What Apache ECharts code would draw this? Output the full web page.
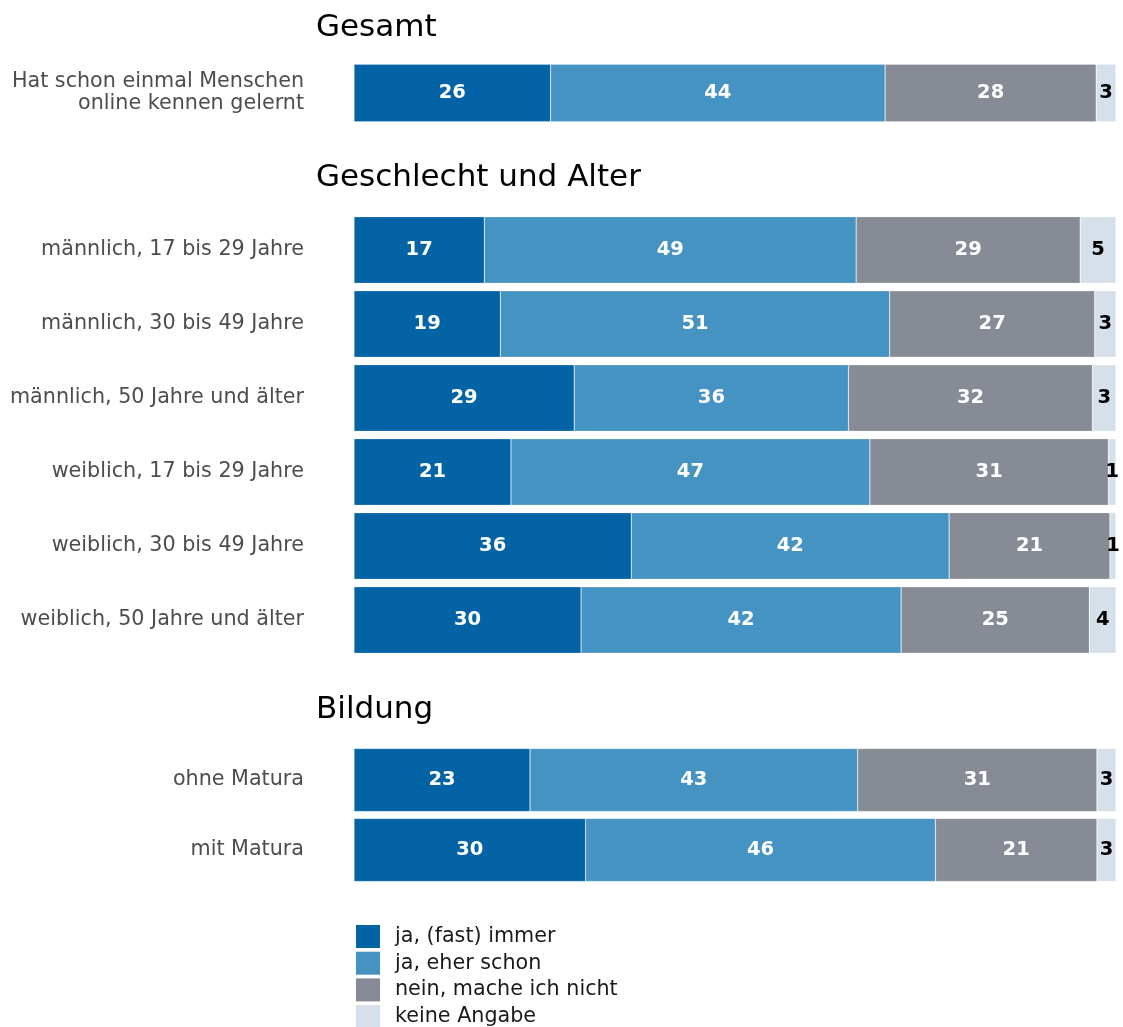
<!DOCTYPE html>
<html>
<head>
<meta charset="utf-8">
<script src="https://cdn.jsdelivr.net/npm/echarts@6/dist/echarts.min.js"></script>
<style>
  html, body { margin: 0; padding: 0; background: #ffffff; }
  #chart { width: 1123px; height: 1027px; }
</style>
</head>
<body>
<div id="chart"></div>
<script>
// ---- data ----
const responseLabels = ['ja, (fast) immer', 'ja, eher schon', 'nein, mache ich nicht', 'keine Angabe'];
const responseColors = ['#0363a5', '#4493c3', '#878b95', '#d5e0eb'];
const labelColors = ['#ffffff', '#ffffff', '#ffffff', '#000000'];

const panelTitles = ['Gesamt', 'Geschlecht und Alter', 'Bildung'];
const gesamtCategories = ['Hat schon einmal Menschen\nonline kennen gelernt'];
const alterCategories = [
  'männlich, 17 bis 29 Jahre',
  'männlich, 30 bis 49 Jahre',
  'männlich, 50 Jahre und älter',
  'weiblich, 17 bis 29 Jahre',
  'weiblich, 30 bis 49 Jahre',
  'weiblich, 50 Jahre und älter'
];
const bildungCategories = ['ohne Matura', 'mit Matura'];

// shares (%) per response, rows in order: Gesamt | 6 Geschlecht/Alter rows | 2 Bildung rows
const valuesImmer     = [25.8, 17.1, 19.2, 28.9, 20.6, 36.4, 29.8, 23.1, 30.4];
const valuesEherSchon = [43.9, 48.8, 51.1, 36.0, 47.1, 41.7, 42.0, 43.0, 45.9];
const valuesNein      = [27.7, 29.4, 26.9, 32.0, 31.3, 21.1, 24.7, 31.4, 21.2];
const valuesKeine     = [2.6, 4.7, 2.8, 3.1, 1.0, 0.8, 3.5, 2.5, 2.5];
// labels printed on the bars
const labelsImmer     = [26, 17, 19, 29, 21, 36, 30, 23, 30];
const labelsEherSchon = [44, 49, 51, 36, 47, 42, 42, 43, 46];
const labelsNein      = [28, 29, 27, 32, 31, 21, 25, 31, 21];
const labelsKeine     = [3, 5, 3, 3, 1, 1, 4, 3, 3];

// ---- build options ----
const allValues = [valuesImmer, valuesEherSchon, valuesNein, valuesKeine];
const allLabels = [labelsImmer, labelsEherSchon, labelsNein, labelsKeine];
const panelCats = [gesamtCategories, alterCategories, bildungCategories];
const panelOffsets = [0, 1, 7];

const gridBoxes = [
  { top: 61, height: 64 },
  { top: 213, height: 444 },
  { top: 745, height: 140 }
];
const titleTops = [12, 162, 694];

const FONT = 'DejaVu Sans';

const grids = gridBoxes.map(b => ({ left: 354, width: 762, top: b.top, height: b.height, containLabel: false }));
const xAxes = gridBoxes.map((b, i) => ({
  type: 'value', gridIndex: i, min: 0, max: 100, show: false
}));
const yAxes = panelCats.map((cats, i) => ({
  type: 'category', gridIndex: i, data: cats, inverse: true,
  axisLine: { show: false }, axisTick: { show: false }, splitLine: { show: false },
  axisLabel: {
    margin: 50, fontFamily: FONT, fontSize: 20.7, color: '#4d4d4d', lineHeight: 22, align: 'right'
  }
}));

const series = [];
panelCats.forEach((cats, p) => {
  allValues.forEach((vals, r) => {
    const off = panelOffsets[p];
    const data = cats.map((c, k) => ({ value: vals[off + k], labelText: allLabels[r][off + k] }));
    series.push({
      type: 'bar', name: responseLabels[r], stack: 'p' + p,
      xAxisIndex: p, yAxisIndex: p,
      barCategoryGap: '10%',
      data: data,
      itemStyle: { color: responseColors[r], borderColor: 'rgba(255,255,255,0.35)', borderWidth: 0.6 },
      label: {
        show: true, position: 'inside',
        formatter: (prm) => String(prm.data.labelText),
        fontFamily: FONT, fontWeight: 'bold', fontSize: 19.5, color: labelColors[r]
      },
      emphasis: { disabled: true },
      animation: false
    });
  });
});

const option = {
  animation: false,
  textStyle: { fontFamily: FONT },
  title: panelTitles.map((t, i) => ({
    text: t, left: 316, top: titleTops[i], padding: 0,
    textStyle: { fontFamily: FONT, fontSize: 31, fontWeight: 'normal', color: '#000000', lineHeight: 31 }
  })),
  legend: {
    orient: 'vertical', left: 356, top: 925, height: 160, padding: 0,
    data: responseLabels,
    icon: 'rect', itemWidth: 24, itemHeight: 23, itemGap: 3.7,
    itemStyle: { borderWidth: 0 },
    textStyle: { fontFamily: FONT, fontSize: 20.7, color: '#1a1a1a', padding: [0, 0, 0, 10], lineHeight: 23 },
    selectedMode: false
  },
  grid: grids,
  xAxis: xAxes,
  yAxis: yAxes,
  series: series
};

const chart = echarts.init(document.getElementById('chart'), null, { renderer: 'canvas' });
chart.setOption(option);
</script>
</body>
</html>
